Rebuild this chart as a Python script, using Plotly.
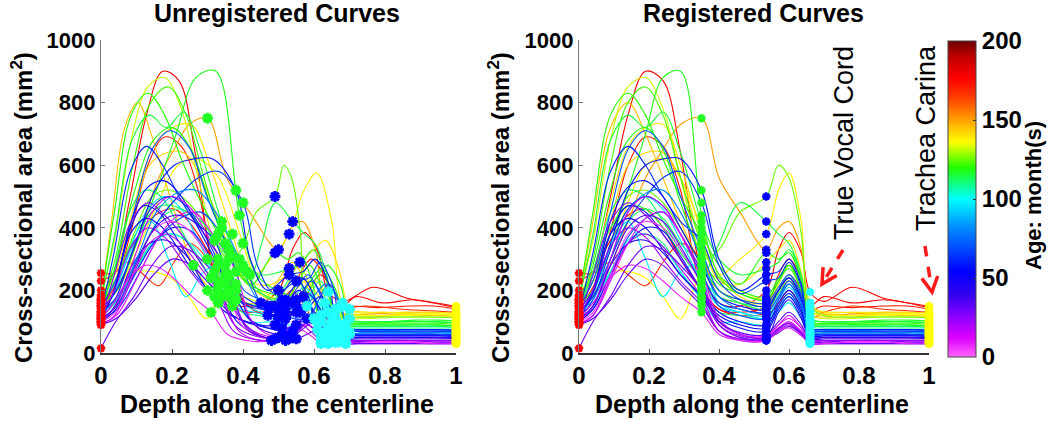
import numpy as np
import plotly.graph_objects as go
from plotly.colors import sample_colorscale

W, H = 1050, 421

# ---------------- data ----------------
# registered depth knots at which every curve is sampled (read from the right panel)
reg_knots = [0, 0.04, 0.09, 0.14, 0.19, 0.24, 0.29, 0.35, 0.40, 0.46, 0.535,
             0.57, 0.60, 0.635, 0.66, 0.70, 0.78, 0.87, 0.94, 1.0]
# registered (common) landmark positions
reg_landmarks = [0, 0.35, 0.535, 0.66, 1.0]
landmark_knot_index = [0, 7, 10, 14, 19]
landmark_colors = ["#ff0000", "#22ff22", "#0000ff", "#22ffff", "#ffff00"]

# age of each subject (months)
ages = [178, 172, 168, 175,
        145, 150, 138, 142, 136, 132, 140,
        118, 120, 122, 116, 125, 115, 112, 119, 113, 110,
        98, 95, 102,
        70, 62, 58, 65, 55, 60, 50, 68, 52, 57, 42, 80,
        15, 28, 10, 5, 18, 32, 8, 30, 22, 35]

# unregistered depth of landmark 1 (green), 2 (blue), 3 (true vocal cord, cyan)
land1_x = [0.32, 0.33, 0.30, 0.38,
           0.26, 0.30, 0.40, 0.34, 0.36, 0.33, 0.37,
           0.39, 0.33, 0.35, 0.34, 0.36, 0.42, 0.31, 0.37, 0.40, 0.36,
           0.35, 0.33, 0.38,
           0.36, 0.32, 0.38, 0.40, 0.33, 0.35, 0.30, 0.41, 0.32, 0.37, 0.34, 0.39,
           0.36, 0.33, 0.38, 0.35, 0.34, 0.37, 0.31, 0.36, 0.33, 0.38]
land2_x = [0.50, 0.52, 0.47, 0.55,
           0.45, 0.50, 0.53, 0.54, 0.51, 0.49, 0.56,
           0.57, 0.49, 0.52, 0.53, 0.49, 0.54, 0.47, 0.55, 0.56, 0.50,
           0.52, 0.50, 0.55,
           0.52, 0.48, 0.53, 0.55, 0.50, 0.52, 0.49, 0.58, 0.51, 0.54, 0.50, 0.56,
           0.51, 0.50, 0.53, 0.52, 0.52, 0.55, 0.48, 0.53, 0.49, 0.54]
land3_x = [0.64, 0.66, 0.60, 0.68,
           0.62, 0.63, 0.68, 0.66, 0.64, 0.62, 0.70,
           0.70, 0.62, 0.65, 0.66, 0.58, 0.66, 0.61, 0.69, 0.67, 0.65,
           0.66, 0.64, 0.70,
           0.64, 0.61, 0.67, 0.68, 0.63, 0.66, 0.62, 0.70, 0.65, 0.69, 0.64, 0.70,
           0.65, 0.63, 0.67, 0.66, 0.64, 0.69, 0.62, 0.66, 0.62, 0.68]

# cross-sectional area (mm^2) of each subject at the registered knots
area_curves = [
    [185, 260, 500, 760, 900, 870, 640, 260, 160, 150, 200, 330, 385, 320, 195, 165, 210, 175, 160, 145],
    [150, 210, 390, 600, 690, 660, 520, 210, 140, 130, 150, 250, 300, 240, 140, 150, 145, 150, 150, 140],
    [255, 255, 290, 250, 215, 290, 350, 300, 180, 160, 120, 160, 200, 150, 110, 130, 150, 140, 135, 130],
    [230, 260, 360, 440, 460, 400, 300, 200, 140, 120, 130, 200, 250, 200, 150, 180, 160, 170, 160, 150],
    [170, 420, 720, 800, 700, 560, 420, 280, 200, 170, 160, 230, 290, 200, 120, 115, 115, 120, 120, 118],
    [160, 190, 280, 420, 560, 650, 730, 750, 560, 450, 330, 400, 420, 330, 160, 125, 125, 130, 130, 128],
    [150, 200, 330, 480, 600, 620, 560, 350, 250, 300, 380, 520, 575, 420, 160, 130, 130, 125, 125, 122],
    [160, 230, 420, 600, 640, 640, 560, 400, 250, 180, 160, 200, 230, 190, 130, 125, 120, 125, 120, 118],
    [200, 230, 260, 260, 240, 180, 110, 250, 240, 200, 170, 200, 230, 180, 130, 120, 120, 120, 125, 120],
    [180, 360, 680, 850, 880, 780, 560, 300, 200, 170, 150, 220, 280, 200, 120, 110, 110, 115, 115, 112],
    [170, 260, 480, 660, 720, 730, 600, 380, 230, 220, 290, 330, 360, 260, 140, 132, 130, 130, 130, 126],
    [160, 200, 350, 520, 700, 880, 900, 440, 250, 200, 180, 240, 280, 220, 110, 100, 100, 105, 105, 102],
    [170, 450, 760, 830, 760, 620, 500, 380, 280, 220, 320, 300, 320, 230, 100, 95, 95, 100, 100, 96],
    [160, 300, 600, 800, 850, 760, 560, 350, 240, 190, 170, 230, 280, 200, 100, 95, 95, 95, 95, 92],
    [170, 380, 680, 760, 720, 770, 640, 420, 300, 250, 270, 290, 330, 240, 110, 100, 100, 100, 100, 98],
    [150, 230, 380, 500, 520, 480, 400, 300, 330, 450, 500, 600, 560, 380, 150, 120, 115, 115, 115, 112],
    [150, 250, 400, 470, 460, 400, 320, 250, 350, 480, 420, 380, 350, 250, 110, 100, 100, 100, 100, 96],
    [140, 260, 450, 520, 500, 420, 330, 240, 180, 160, 150, 200, 250, 180, 95, 90, 90, 90, 90, 88],
    [150, 280, 520, 680, 720, 650, 480, 310, 220, 190, 170, 230, 270, 200, 95, 90, 90, 90, 90, 86],
    [130, 180, 300, 420, 460, 430, 350, 280, 200, 160, 140, 190, 230, 170, 90, 85, 85, 85, 85, 82],
    [120, 160, 260, 350, 380, 350, 260, 180, 130, 120, 110, 150, 190, 140, 85, 80, 80, 80, 80, 80],
    [120, 200, 340, 420, 300, 180, 260, 280, 160, 130, 110, 140, 180, 130, 70, 70, 70, 75, 75, 72],
    [130, 190, 340, 460, 500, 460, 360, 230, 150, 130, 120, 170, 210, 150, 75, 75, 75, 75, 75, 72],
    [110, 150, 260, 360, 380, 340, 260, 170, 100, 100, 90, 130, 160, 110, 60, 65, 65, 65, 65, 62],
    [150, 230, 450, 650, 710, 660, 500, 330, 200, 170, 160, 210, 250, 190, 80, 75, 75, 75, 75, 72],
    [130, 320, 580, 660, 600, 500, 420, 360, 230, 170, 150, 200, 240, 180, 75, 70, 70, 70, 70, 70],
    [140, 200, 350, 520, 600, 620, 620, 520, 300, 200, 250, 260, 300, 220, 80, 75, 75, 75, 75, 72],
    [130, 180, 300, 420, 500, 560, 580, 480, 280, 190, 230, 240, 290, 210, 70, 70, 70, 70, 70, 66],
    [120, 200, 420, 530, 550, 500, 400, 280, 180, 150, 140, 200, 240, 170, 65, 60, 60, 60, 60, 60],
    [110, 170, 330, 460, 500, 470, 380, 250, 160, 140, 130, 180, 230, 160, 60, 60, 60, 60, 60, 56],
    [120, 190, 380, 470, 450, 380, 300, 200, 130, 100, 90, 160, 200, 140, 55, 55, 55, 55, 55, 55],
    [110, 140, 250, 370, 430, 450, 380, 260, 150, 120, 110, 170, 220, 150, 60, 60, 60, 60, 60, 56],
    [100, 200, 380, 430, 400, 330, 250, 180, 120, 90, 80, 150, 190, 130, 55, 55, 55, 55, 55, 52],
    [100, 140, 250, 350, 400, 390, 310, 200, 110, 80, 70, 140, 180, 120, 50, 50, 50, 50, 50, 50],
    [100, 150, 280, 350, 360, 320, 250, 180, 100, 60, 50, 130, 170, 110, 50, 50, 50, 50, 50, 46],
    [130, 170, 300, 450, 510, 520, 450, 300, 180, 140, 130, 180, 220, 160, 65, 65, 65, 65, 65, 62],
    [100, 150, 300, 450, 500, 470, 380, 240, 100, 60, 55, 90, 120, 80, 40, 40, 40, 40, 40, 40],
    [110, 250, 420, 480, 440, 380, 300, 200, 90, 55, 50, 80, 100, 70, 40, 40, 40, 40, 40, 40],
    [95, 120, 230, 350, 430, 450, 380, 260, 110, 60, 55, 90, 110, 80, 35, 35, 35, 35, 35, 35],
    [100, 130, 250, 380, 420, 400, 330, 220, 90, 50, 45, 80, 100, 70, 35, 35, 35, 35, 35, 35],
    [90, 120, 240, 350, 380, 340, 270, 180, 70, 40, 40, 70, 90, 60, 30, 30, 30, 30, 30, 30],
    [90, 110, 170, 250, 300, 280, 220, 150, 70, 45, 45, 65, 85, 60, 30, 30, 30, 30, 30, 30],
    [110, 160, 240, 280, 270, 230, 180, 130, 60, 40, 40, 70, 80, 55, 30, 30, 35, 35, 30, 30],
    [15, 100, 180, 280, 340, 330, 280, 200, 90, 50, 45, 75, 95, 65, 35, 35, 40, 40, 35, 35],
    [120, 200, 340, 400, 370, 300, 230, 160, 70, 45, 45, 80, 95, 65, 40, 40, 40, 40, 40, 40],
    [110, 150, 280, 400, 440, 420, 340, 220, 100, 65, 60, 100, 130, 90, 45, 45, 45, 45, 45, 45],
]

x_ticks = [0, 0.2, 0.4, 0.6, 0.8, 1]
x_tick_labels = ["0", "0.2", "0.4", "0.6", "0.8", "1"]
y_ticks = [0, 200, 400, 600, 800, 1000]
cbar_ticks = [0, 50, 100, 150, 200]

age_colorscale = [
    [0.00, "#ff66ff"], [0.06, "#dd00ff"], [0.13, "#8800ff"], [0.20, "#3000f0"],
    [0.27, "#0000ff"], [0.35, "#0050ff"], [0.42, "#0099ff"], [0.50, "#00ffff"],
    [0.60, "#22ff00"], [0.68, "#ffff00"], [0.75, "#ffa000"], [0.82, "#ff4000"],
    [0.88, "#ff0000"], [0.95, "#c00000"], [1.00, "#700000"],
]

# ---------------- figure ----------------
def pxx(v):
    return v / W

def pxy(v):
    return 1 - v / H

fig = go.Figure()
colors = sample_colorscale(age_colorscale, [a / 200 for a in ages])

for i, vals in enumerate(area_curves):
    unreg_land = [0, land1_x[i], land2_x[i], land3_x[i], 1.0]
    x_unreg = np.interp(reg_knots, reg_landmarks, unreg_land)
    fig.add_trace(go.Scatter(x=x_unreg, y=vals, mode="lines", xaxis="x", yaxis="y",
                             line=dict(color=colors[i], width=1.1, shape="spline", smoothing=1.0),
                             hoverinfo="skip"))
    fig.add_trace(go.Scatter(x=reg_knots, y=vals, mode="lines", xaxis="x2", yaxis="y2",
                             line=dict(color=colors[i], width=1.1, shape="spline", smoothing=1.0),
                             hoverinfo="skip"))

land_positions = [[0.0] * len(ages), land1_x, land2_x, land3_x, [1.0] * len(ages)]
for k, kidx in enumerate(landmark_knot_index):
    ys = [c[kidx] for c in area_curves]
    big = k in (1, 2, 3)
    fig.add_trace(go.Scatter(x=land_positions[k], y=ys, mode="markers", xaxis="x", yaxis="y",
                             cliponaxis=False, hoverinfo="skip",
                             marker=dict(symbol="asterisk-open", size=9 if big else 7,
                                         color=landmark_colors[k],
                                         line=dict(color=landmark_colors[k], width=3 if big else 2.4))))
    fig.add_trace(go.Scatter(x=[reg_landmarks[k]] * len(ys), y=ys, mode="markers", xaxis="x2", yaxis="y2",
                             cliponaxis=False, hoverinfo="skip",
                             marker=dict(symbol="asterisk-open", size=7,
                                         color=landmark_colors[k],
                                         line=dict(color=landmark_colors[k], width=2.4))))

# colorbar carrier
fig.add_trace(go.Scatter(x=[None], y=[None], mode="markers", xaxis="x2", yaxis="y2",
                         marker=dict(color=[0], cmin=0, cmax=200, colorscale=age_colorscale,
                                     showscale=True,
                                     colorbar=dict(x=pxx(948), xanchor="left", xpad=0,
                                                   y=pxy(199), yanchor="middle", ypad=0,
                                                   len=316 / H, lenmode="fraction",
                                                   thickness=28, thicknessmode="pixels",
                                                   outlinewidth=1, outlinecolor="#444",
                                                   tickvals=cbar_ticks, ticks="inside",
                                                   ticklen=3, tickcolor="#333",
                                                   tickfont=dict(family="Liberation Sans", size=24,
                                                                 color="black", weight="bold")))))

xtickfont = dict(family="Liberation Sans", size=24, color="black", weight="bold")
ytickfont = dict(family="Liberation Sans", size=22, color="black", weight="bold")
x_common = dict(showgrid=False, zeroline=False, showline=True, linecolor="#333",
                linewidth=1.6, ticks="inside", ticklen=4, tickcolor="#555",
                tickfont=xtickfont, range=[0, 1], tickvals=x_ticks, ticktext=x_tick_labels)
y_common = dict(showgrid=False, zeroline=False, showline=True, linecolor="#777",
                linewidth=1.2, ticks="inside", ticklen=4, tickcolor="#777",
                tickfont=ytickfont, range=[0, 1000], tickvals=y_ticks)
ydom = [pxy(353), pxy(40)]
fig.update_layout(
    width=W, height=H, margin=dict(l=0, r=0, t=0, b=0, autoexpand=False),
    paper_bgcolor="white", plot_bgcolor="white", showlegend=False,
    font=dict(family="Liberation Sans", color="black"),
    xaxis=dict(domain=[pxx(101), pxx(456)], anchor="y", **x_common),
    yaxis=dict(domain=ydom, anchor="x", **y_common),
    xaxis2=dict(domain=[pxx(579), pxx(929)], anchor="y2", **x_common),
    yaxis2=dict(domain=ydom, anchor="x2", **y_common),
)

bold25 = dict(family="Liberation Sans", size=25, color="black", weight="bold")
bold24 = dict(family="Liberation Sans", size=24, color="black", weight="bold")
ann = [
    dict(text="Unregistered Curves", x=pxx(277), y=pxy(13), font=bold25),
    dict(text="Registered Curves", x=pxx(753), y=pxy(13), font=bold25),
    dict(text="Depth along the centerline", x=pxx(277), y=pxy(404), font=bold25),
    dict(text="Depth along the centerline", x=pxx(752), y=pxy(404), font=bold25),
    dict(text="Cross-sectional area (mm<sup>2</sup>)", x=pxx(22), y=pxy(208), textangle=-90, font=bold24),
    dict(text="Cross-sectional area (mm<sup>2</sup>)", x=pxx(499), y=pxy(208), textangle=-90, font=bold24),
    dict(text="Age: month(s)", x=pxx(1033), y=pxy(196), textangle=-90,
         font=dict(family="Liberation Sans", size=22, color="black", weight="bold")),
    dict(text="True Vocal Cord", x=pxx(844), y=pxy(143), textangle=-90,
         font=dict(family="Liberation Sans", size=27, color="black")),
    dict(text="Trachea Carina", x=pxx(926), y=pxy(138), textangle=-90,
         font=dict(family="Liberation Sans", size=27, color="black")),
]
for a in ann:
    fig.add_annotation(xref="paper", yref="paper", showarrow=False,
                       xanchor="center", yanchor="middle", **a)

# dashed red arrows
def arrow(sx, sy, tx, ty, head=15, half=8):
    d = np.array([tx - sx, ty - sy], dtype=float)
    u = d / np.linalg.norm(d)
    n = np.array([-u[1], u[0]])
    b = np.array([tx, ty]) - head * u * 0.5
    c1 = np.array([tx, ty]) - head * u + half * n
    c2 = np.array([tx, ty]) - head * u - half * n
    fig.add_shape(type="line", xref="paper", yref="paper",
                  x0=pxx(sx), y0=pxy(sy), x1=pxx(b[0]), y1=pxy(b[1]),
                  line=dict(color="#ff1a1a", width=3.5, dash="dash"))
    path = (f"M {pxx(c1[0])} {pxy(c1[1])} L {pxx(tx)} {pxy(ty)} "
            f"L {pxx(c2[0])} {pxy(c2[1])}")
    fig.add_shape(type="path", xref="paper", yref="paper", path=path,
                  line=dict(color="#ff1a1a", width=3.5))

arrow(843, 250, 822, 284)
arrow(925, 246, 932, 292)

fig.write_html("out.html", config={"displayModeBar": False},
               post_script="document.body.style.margin='0';document.body.style.overflow='hidden';")
